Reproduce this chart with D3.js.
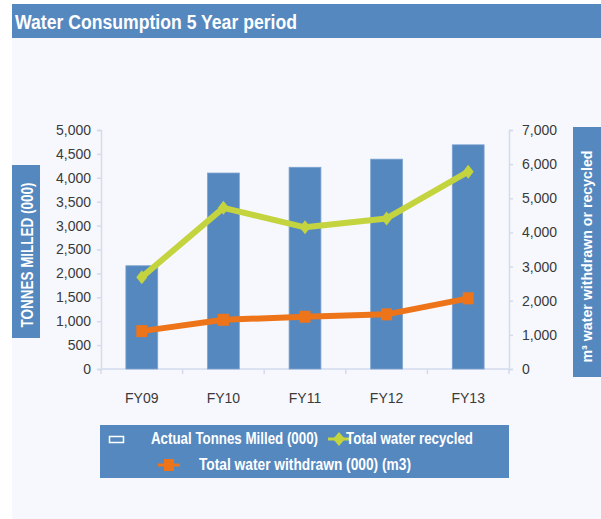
<!DOCTYPE html>
<html>
<head>
<meta charset="utf-8">
<script src="https://cdn.jsdelivr.net/npm/d3@7"></script>
<style>
  html, body { margin: 0; padding: 0; background: #ffffff; }
  svg { display: block; }
</style>
</head>
<body>
<script>
// Water consumption over five financial years
const categories = ["FY09", "FY10", "FY11", "FY12", "FY13"];
const tonnesMilled = [2160, 4100, 4220, 4390, 4690];      // left axis, bars
const waterRecycled = [2690, 4720, 4150, 4410, 5780];     // right axis, green line
const waterWithdrawn = [1110, 1440, 1530, 1600, 2070];    // right axis, orange line
const leftTicks = [0, 500, 1000, 1500, 2000, 2500, 3000, 3500, 4000, 4500, 5000];
const rightTicks = [0, 1000, 2000, 3000, 4000, 5000, 6000, 7000];

const W = 601, H = 519;
const blue = "#5588bf", green = "#c4d43f", orange = "#ee7419";
const axisCol = "#d3dbec", textCol = "#3a3a3a";
const boldFont = "'Liberation Sans', Arial, sans-serif";
const regular = "'Liberation Sans', Arial, sans-serif";

const svg = d3.select("body").append("svg").attr("width", W).attr("height", H);

// Condensed bold label: squeezed to a fixed width
function label(sel, t, size, len) {
  return sel.attr("fill", "#fff").attr("font-family", boldFont).attr("font-weight", "bold")
    .attr("font-size", size).attr("textLength", len).attr("lengthAdjust", "spacingAndGlyphs").text(t);
}

// Panel and title band
svg.append("rect").attr("x", 12).attr("y", 38).attr("width", W - 12).attr("height", H - 38).attr("fill", "#f7f8fd");
svg.append("rect").attr("x", 12).attr("y", 4).attr("width", W - 12).attr("height", 34).attr("fill", blue);
label(svg.append("text").attr("x", 15).attr("y", 28.5), "Water Consumption 5 Year period", 19.5, 282);

const plot = { left: 101, right: 509, top: 130, bottom: 369 };

const x = d3.scaleBand().domain(categories).range([plot.left, plot.right]).paddingInner(0.61).paddingOuter(0.305);
const xOuter = d3.scaleBand().domain(categories).range([plot.left, plot.right]);
const yL = d3.scaleLinear().domain([0, 5000]).range([plot.bottom, plot.top]);
const yR = d3.scaleLinear().domain([0, 7000]).range([plot.bottom, plot.top]);

// Axes
const fmt = d3.format(",");
const gL = svg.append("g").attr("transform", `translate(${plot.left},0)`)
  .call(d3.axisLeft(yL).tickValues(leftTicks).tickFormat(fmt).tickSize(4).tickPadding(6));
const gR = svg.append("g").attr("transform", `translate(${plot.right},0)`)
  .call(d3.axisRight(yR).tickValues(rightTicks).tickFormat(fmt).tickSize(4).tickPadding(9));
const gX = svg.append("g").attr("transform", `translate(0,${plot.bottom})`)
  .call(d3.axisBottom(xOuter).tickSize(0).tickPadding(24));

// Category separators on the x axis
svg.append("g").selectAll("line")
  .data(categories.slice(1).map(c => xOuter(c)).concat([plot.left, plot.right]))
  .join("line")
  .attr("x1", d => d).attr("x2", d => d)
  .attr("y1", plot.bottom).attr("y2", plot.bottom + 5)
  .attr("stroke", axisCol).attr("stroke-width", 1.5);

[gL, gR, gX].forEach(g => {
  g.selectAll(".domain").attr("stroke", axisCol).attr("stroke-width", 1.5);
  g.selectAll(".tick line").attr("stroke", axisCol).attr("stroke-width", 1.5);
  g.selectAll("text").attr("fill", textCol).attr("font-family", regular).attr("font-size", 14);
});
gX.select(".domain").attr("d", `M${plot.left},0H${plot.right}`);

// Bars
svg.append("g").selectAll("rect")
  .data(tonnesMilled)
  .join("rect")
  .attr("x", (d, i) => x(categories[i]))
  .attr("y", d => yL(d))
  .attr("width", x.bandwidth())
  .attr("height", d => yL(0) - yL(d))
  .attr("fill", blue)
  .attr("stroke", "#7ba3cf").attr("stroke-width", 0.8);

const cx = i => xOuter(categories[i]) + xOuter.bandwidth() / 2;

// Recycled water line with diamond markers
svg.append("path")
  .datum(waterRecycled)
  .attr("fill", "none").attr("stroke", green).attr("stroke-width", 6).attr("stroke-linejoin", "round")
  .attr("d", d3.line().x((d, i) => cx(i)).y(d => yR(d)));
svg.append("g").selectAll("path")
  .data(waterRecycled)
  .join("path")
  .attr("transform", (d, i) => `translate(${cx(i)},${yR(d)})`)
  .attr("d", "M0,-7L5.5,0L0,7L-5.5,0Z")
  .attr("fill", green);

// Withdrawn water line with square markers
svg.append("path")
  .datum(waterWithdrawn)
  .attr("fill", "none").attr("stroke", orange).attr("stroke-width", 6).attr("stroke-linejoin", "round")
  .attr("d", d3.line().x((d, i) => cx(i)).y(d => yR(d)));
svg.append("g").selectAll("rect")
  .data(waterWithdrawn)
  .join("rect")
  .attr("x", (d, i) => cx(i) - 5.5).attr("y", d => yR(d) - 6)
  .attr("width", 11).attr("height", 12)
  .attr("fill", orange);

// Axis title boxes
svg.append("rect").attr("x", 12).attr("y", 165).attr("width", 28).attr("height", 173).attr("fill", blue);
label(svg.append("text").attr("transform", "translate(33,255) rotate(-90)").attr("text-anchor", "middle"),
  "TONNES MILLED (000)", 16.5, 145);

svg.append("rect").attr("x", 573).attr("y", 127).attr("width", 28).attr("height", 250).attr("fill", blue);
label(svg.append("text").attr("transform", "translate(591.5,256.5) rotate(-90)").attr("text-anchor", "middle"),
  "m³ water withdrawn or recycled", 15, 212);

// Legend
const lg = svg.append("g");
lg.append("rect").attr("x", 100).attr("y", 425).attr("width", 409).attr("height", 53).attr("fill", blue);
lg.append("rect").attr("x", 109.5).attr("y", 436.5).attr("width", 14).attr("height", 6)
  .attr("fill", "none").attr("stroke", "#fff").attr("stroke-width", 1.5);
label(lg.append("text").attr("x", 151).attr("y", 444), "Actual Tonnes Milled (000)", 16, 167);
lg.append("line").attr("x1", 328).attr("x2", 351).attr("y1", 439).attr("y2", 439)
  .attr("stroke", green).attr("stroke-width", 3);
lg.append("path").attr("transform", "translate(339,439)").attr("d", "M0,-7L6,0L0,7L-6,0Z").attr("fill", green);
label(lg.append("text").attr("x", 346).attr("y", 444), "Total water recycled", 16, 127);
lg.append("line").attr("x1", 158).attr("x2", 180).attr("y1", 465).attr("y2", 465)
  .attr("stroke", orange).attr("stroke-width", 3);
lg.append("rect").attr("x", 164).attr("y", 459).attr("width", 10).attr("height", 12).attr("fill", orange);
label(lg.append("text").attr("x", 199).attr("y", 470), "Total water withdrawn (000) (m3)", 16, 212);
</script>
</body>
</html>
